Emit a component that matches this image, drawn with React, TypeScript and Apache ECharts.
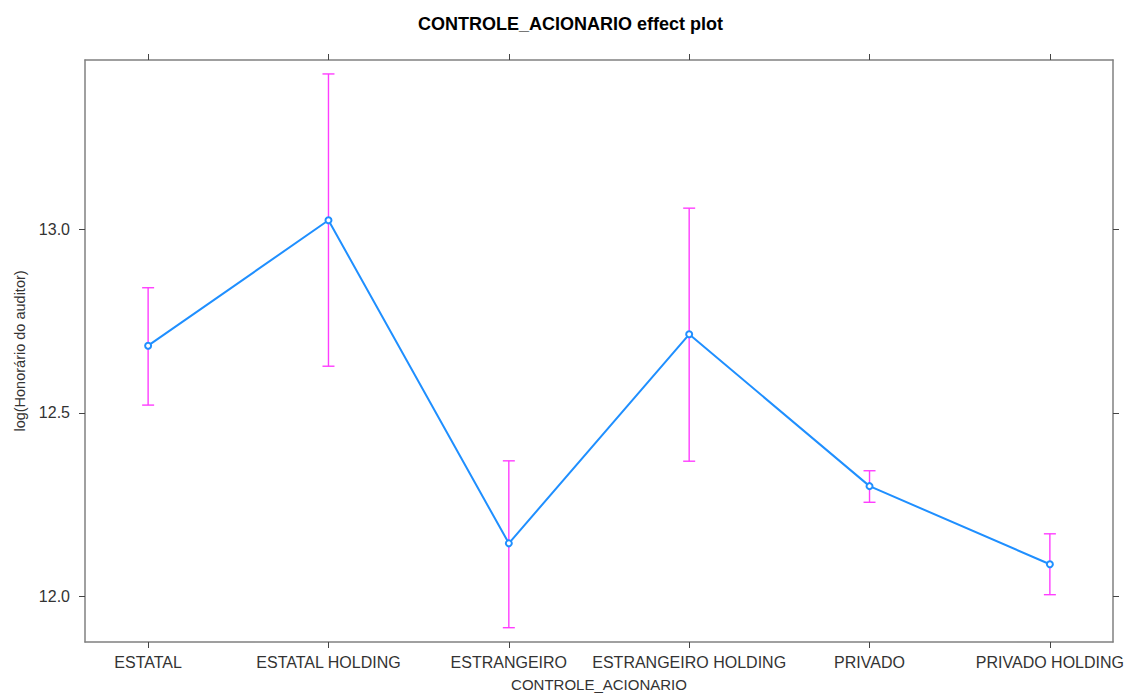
import React, { useEffect, useRef } from "react";
import * as echarts from "echarts";

const categories = [
  "ESTATAL",
  "ESTATAL HOLDING",
  "ESTRANGEIRO",
  "ESTRANGEIRO HOLDING",
  "PRIVADO",
  "PRIVADO HOLDING",
];
const fitValues = [12.683, 13.025, 12.144, 12.714, 12.3, 12.087];
const lowerValues = [12.521, 12.627, 11.914, 12.368, 12.256, 12.004];
const upperValues = [12.841, 13.424, 12.369, 13.058, 12.342, 12.17];
const yTicks = [12.0, 12.5, 13.0];
const xTicks = [0, 1, 2, 3, 4, 5];

const FONT = "'Liberation Sans', Arial, sans-serif";
const LINE = "#1f8fff";
const CI = "#ff3dff";
const FRAME = "#808080";
const TICK = "#444444";

export default function App() {
  const ref = useRef<HTMLDivElement>(null);
  useEffect(() => {
    if (!ref.current) return;
    const chart = echarts.init(ref.current, undefined, { renderer: "svg" });
    const lineData = fitValues.map((v, i) => [i, v]);
    const ciData = categories.map((_, i) => [i, lowerValues[i], upperValues[i]]);
    const xAxisBase = {
      type: "value",
      min: -0.35,
      max: 5.35,
      splitLine: { show: false },
      axisLine: { show: true, onZero: false, lineStyle: { color: FRAME, width: 1.5 } },
    };
    const yAxisBase = {
      type: "value",
      min: 11.875,
      max: 13.462,
      splitLine: { show: false },
      axisLine: { show: true, onZero: false, lineStyle: { color: FRAME, width: 1.5 } },
    };
    chart.setOption({
      animation: false,
      backgroundColor: "#ffffff",
      title: {
        text: "CONTROLE_ACIONARIO effect plot",
        left: 413,
        top: 10,
        textStyle: { fontFamily: FONT, fontSize: 18, fontWeight: "bold", color: "#000" },
      },
      grid: { left: 85, right: 14, top: 60, bottom: 52, containLabel: false, outerBoundsMode: "none" },
      xAxis: [
        {
          ...xAxisBase,
          position: "bottom",
          name: "CONTROLE_ACIONARIO",
          nameLocation: "middle",
          nameGap: 35,
          nameTextStyle: { fontFamily: FONT, fontSize: 15, color: "#333" },
          axisTick: { show: true, customValues: xTicks, length: 6, lineStyle: { color: TICK } },
          axisLabel: {
            show: true,
            customValues: xTicks,
            margin: 12,
            fontFamily: FONT,
            fontSize: 16,
            color: "#333",
            formatter: (v: number) => categories[Math.round(v)] ?? "",
          },
        },
        {
          ...xAxisBase,
          position: "top",
          axisTick: { show: true, customValues: xTicks, length: 6, lineStyle: { color: TICK } },
          axisLabel: { show: false },
        },
      ],
      yAxis: [
        {
          ...yAxisBase,
          position: "left",
          name: "log(Honorário do auditor)",
          nameLocation: "middle",
          nameGap: 58,
          nameRotate: 90,
          nameTextStyle: { fontFamily: FONT, fontSize: 14.5, color: "#333" },
          axisTick: { show: true, customValues: yTicks, length: 6, lineStyle: { color: TICK } },
          axisLabel: {
            show: true,
            customValues: yTicks,
            margin: 15,
            fontFamily: FONT,
            fontSize: 16,
            color: "#333",
            formatter: (v: number) => v.toFixed(1),
          },
        },
        {
          ...yAxisBase,
          position: "right",
          axisTick: { show: true, customValues: yTicks, length: 6, lineStyle: { color: TICK } },
          axisLabel: { show: false },
        },
      ],
      series: [
        {
          type: "custom",
          xAxisIndex: 0,
          yAxisIndex: 0,
          z: 2,
          data: ciData,
          encode: { x: 0, y: [1, 2] },
          renderItem: (params: any, api: any) => {
            const i = api.value(0);
            const lo = api.coord([i, api.value(1)]);
            const hi = api.coord([i, api.value(2)]);
            const hw = 6;
            const style = { stroke: CI, lineWidth: 1.4 };
            return {
              type: "group",
              children: [
                { type: "line", shape: { x1: lo[0], y1: lo[1], x2: hi[0], y2: hi[1] }, style },
                { type: "line", shape: { x1: lo[0] - hw, y1: lo[1], x2: lo[0] + hw, y2: lo[1] }, style },
                { type: "line", shape: { x1: hi[0] - hw, y1: hi[1], x2: hi[0] + hw, y2: hi[1] }, style },
              ],
            };
          },
        },
        {
          type: "line",
          xAxisIndex: 0,
          yAxisIndex: 0,
          z: 3,
          data: lineData,
          symbol: "emptyCircle",
          symbolSize: 6,
          lineStyle: { color: LINE, width: 2 },
          itemStyle: { color: LINE, borderColor: LINE, borderWidth: 1.5 },
        },
      ],
    });
    return () => chart.dispose();
  }, []);
  return <div ref={ref} style={{ width: 1127, height: 694, position: "absolute", left: 0, top: 0 }} />;
}
